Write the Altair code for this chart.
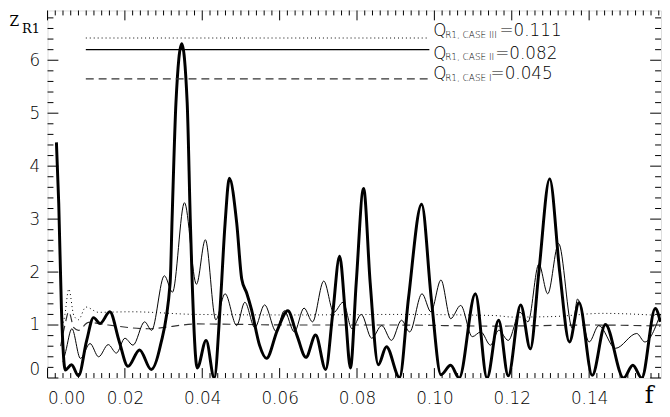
import altair as alt
import pandas as pd
import numpy as np

# ---------------- data ----------------
thick_f = [0.0023, 0.0029, 0.0036, 0.0046, 0.0062, 0.0080, 0.0101, 0.0119, 0.0136, 0.0161,
           0.0185, 0.0208, 0.0238, 0.0268, 0.0292, 0.0317, 0.0322, 0.0332, 0.0347, 0.0361,
           0.0369, 0.0374, 0.0387, 0.0410, 0.0431, 0.0446, 0.0459, 0.0470, 0.0489, 0.0502,
           0.0515, 0.0527, 0.0548, 0.0566, 0.0594, 0.0621, 0.0645, 0.0668, 0.0693, 0.0719,
           0.0737, 0.0755, 0.0770, 0.0783, 0.0798, 0.0817, 0.0834, 0.0855, 0.0876, 0.0910,
           0.0933, 0.0967, 0.0992, 0.1017, 0.1042, 0.1064, 0.1106, 0.1136, 0.1166, 0.1191,
           0.1223, 0.1248, 0.1270, 0.1298, 0.1324, 0.1349, 0.1374, 0.1408, 0.1442, 0.1489,
           0.1513, 0.1536, 0.1571, 0.1584]
thick_z = [4.45, 3.30, 1.30, 0.15, 0.25, 0.04, 0.70, 1.14, 1.03, 1.25,
           0.70, 0.22, 0.53, 0.16, 0.62, 1.80, 3.00, 5.20, 6.31, 5.20,
           3.00, 1.80, 0.19, 0.71, 0.00, 1.31, 2.92, 3.77, 2.93, 1.87,
           1.60, 1.30, 0.62, 0.37, 0.90, 1.27, 0.80, 0.39, 0.81, 0.16,
           1.20, 2.30, 1.20, 0.19, 1.80, 3.58, 1.80, 0.25, 0.59, 0.01,
           1.50, 3.28, 1.50, 0.06, 0.24, 0.00, 1.59, 0.00, 1.09, 0.04,
           1.38, 0.55, 2.00, 3.76, 2.00, 0.68, 1.42, 0.05, 1.01, 0.00,
           0.24, 0.00, 1.31, 1.06]

thin_f = [0.0040, 0.0047, 0.0063, 0.0085, 0.0110, 0.0132, 0.0157, 0.0178, 0.0200, 0.0221,
          0.0251, 0.0269, 0.0302, 0.0323, 0.0354, 0.0385, 0.0408, 0.0435, 0.0459, 0.0489,
          0.0510, 0.0536, 0.0561, 0.0591, 0.0612, 0.0638, 0.0663, 0.0685, 0.0714, 0.0740,
          0.0764, 0.0787, 0.0811, 0.0838, 0.0864, 0.0889, 0.0915, 0.0936, 0.0968, 0.0991,
          0.1017, 0.1042, 0.1068, 0.1098, 0.1120, 0.1145, 0.1166, 0.1191, 0.1221, 0.1242,
          0.1270, 0.1293, 0.1321, 0.1357, 0.1370, 0.1400, 0.1425, 0.1468, 0.1523, 0.1544,
          0.1584]
thin_z = [0.30, 0.50, 0.93, 0.37, 0.65, 0.40, 0.63, 0.47, 0.75, 0.62,
          1.06, 0.90, 1.93, 1.62, 3.31, 1.77, 2.61, 1.10, 1.59, 0.99,
          1.43, 0.95, 1.38, 0.88, 1.27, 0.87, 1.32, 1.06, 1.83, 1.24,
          1.43, 0.93, 1.20, 0.75, 0.99, 0.71, 1.09, 0.87, 1.59, 1.25,
          1.85, 1.12, 1.37, 0.78, 0.87, 0.62, 0.90, 0.71, 1.24, 1.06,
          2.15, 1.59, 2.54, 0.93, 1.49, 0.68, 0.99, 0.56, 0.84, 0.68,
          1.20]

dot_f = [0.0037, 0.0045, 0.0055, 0.0068, 0.0080, 0.0099, 0.0132, 0.0216, 0.0387, 0.0642,
         0.0898, 0.1153, 0.1204, 0.1306, 0.1434, 0.1584]
dot_z = [0.90, 1.20, 1.68, 1.18, 1.10, 1.34, 1.24, 1.25, 1.20, 1.19,
         1.20, 1.18, 1.15, 1.16, 1.22, 1.18]

dash_f = [0.0034, 0.0045, 0.0055, 0.0068, 0.0080, 0.0106, 0.0157, 0.0259, 0.0387, 0.0642,
          0.0898, 0.1153, 0.1408, 0.1584]
dash_z = [0.60, 1.00, 1.25, 0.95, 0.90, 1.05, 1.00, 0.93, 1.02, 1.00,
          1.00, 0.98, 1.00, 0.98]

x_ticks = [0.00, 0.02, 0.04, 0.06, 0.08, 0.10, 0.12, 0.14]
y_ticks = [0, 1, 2, 3, 4, 5, 6]

leg_style = ["dotted", "solid", "dashed"]
leg_case = ["R1, CASE III", "R1, CASE II", "R1, CASE I"]
leg_value = ["=0.111", "=0.082", "=0.045"]
leg_level = [6.42, 6.20, 5.65]
leg_f0, leg_f1 = 0.0099, 0.0987

# ---------------- geometry ----------------
W, H = 621, 372
XMAX = 0.15858
YMAX = 6.94
FONT = "DejaVu Sans"
FW = 200

xs = alt.Scale(domain=[0, XMAX], nice=False, zero=False)
ys = alt.Scale(domain=[0, YMAX], nice=False, zero=False)

def line_layer(f, z, **mk):
    df = pd.DataFrame({"f": f, "z": z})
    return alt.Chart(df).mark_line(interpolate="monotone", clip=True, **mk).encode(
        x=alt.X("f:Q", scale=xs), y=alt.Y("z:Q", scale=ys))

base_axes = alt.Chart(pd.DataFrame({"f": [0.0], "z": [0.0]})).mark_point(opacity=0).encode(
    x=alt.X("f:Q", scale=xs, axis=alt.Axis(values=x_ticks, format=".2f", title=None, ticks=False,
                                           tickSize=0, domain=False, grid=False, labelFont=FONT,
                                           labelFontSize=17, labelFontWeight=FW, labelPadding=13,
                                           labelColor="black")),
    y=alt.Y("z:Q", scale=ys, axis=alt.Axis(values=y_ticks, format="d", title=None, ticks=False,
                                           tickSize=0, domain=False, grid=False, labelFont=FONT,
                                           labelFontSize=17, labelFontWeight=FW, labelPadding=8,
                                           labelFlush=True, labelColor="black")),
)

dashed = line_layer(dash_f, dash_z, color="#333333", strokeWidth=1.2, strokeDash=[8, 5])
dotted = line_layer(dot_f, dot_z, color="black", strokeWidth=1, strokeDash=[1, 3])
thin = line_layer(thin_f, thin_z, color="black", strokeWidth=1)
thick = line_layer(thick_f, thick_z, color="black", strokeWidth=3)

# legend lines
leg_df = pd.DataFrame({"f0": [leg_f0] * 3, "f1": [leg_f1] * 3, "z": leg_level, "s": leg_style})
dash_map = {"dotted": [1, 3], "solid": [1, 0], "dashed": [8, 5]}
leg_lines = []
for i, s in enumerate(leg_style):
    leg_lines.append(
        alt.Chart(leg_df.iloc[[i]]).mark_rule(strokeDash=dash_map[s],
                                             color="#333333" if s == "dashed" else "black",
                                             strokeWidth=1.2 if s != "dotted" else 1).encode(
            x=alt.X("f0:Q", scale=xs), x2="f1:Q", y=alt.Y("z:Q", scale=ys)))

# legend texts (pixel positions inside plot)
q_x = 390.5
q_base = [26, 48.7, 69.3]
sub_base = [27.7, 50.3, 71.3]
val_x = [457.5, 453.2, 448.5]
q_df = pd.DataFrame({"x": [q_x] * 3, "y": q_base, "t": ["Q"] * 3})
sub_df = pd.DataFrame({"x": [q_x + 12] * 3, "y": sub_base, "t": leg_case})
val_df = pd.DataFrame({"x": val_x, "y": q_base, "t": leg_value})

def text_layer(df, size, font=FONT, align="left", weight=FW):
    return alt.Chart(df).mark_text(align=align, baseline="alphabetic", font=font, fontSize=size,
                                   fontWeight=weight, color="black").encode(
        x=alt.X("x:Q", scale=None), y=alt.Y("y:Q", scale=None), text="t:N")

q_txt = text_layer(q_df, 17)
sub_txt = text_layer(sub_df, 9)
val_txt = text_layer(val_df, 17)

ytitle1 = text_layer(pd.DataFrame({"x": [-38.5], "y": [16], "t": ["Z"]}), 14, font="DejaVu Serif", weight="normal")
ytitle2 = text_layer(pd.DataFrame({"x": [-25.8], "y": [23], "t": ["R1"]}), 13, font="DejaVu Serif", weight="normal")
xtitle = text_layer(pd.DataFrame({"x": [609], "y": [397], "t": ["f"]}), 24, font="DejaVu Serif",
                    align="center", weight="normal")

# inward ticks
xminor = [round(v, 4) for v in np.arange(0, XMAX, 0.002)]
yminor = [round(v, 2) for v in np.arange(0, YMAX, 0.2)]
xt_df = pd.DataFrame({"f": xminor, "major": [abs(v / 0.02 - round(v / 0.02)) < 1e-6 for v in xminor]})
yt_df = pd.DataFrame({"z": yminor, "major": [abs(v - round(v)) < 1e-6 for v in yminor]})

def xticks(df, length, top):
    ch = alt.Chart(df).mark_rule(color="black", strokeWidth=1)
    if top:
        return ch.encode(x=alt.X("f:Q", scale=xs), y=alt.value(0), y2=alt.value(length))
    return ch.encode(x=alt.X("f:Q", scale=xs), y=alt.value(H), y2=alt.value(H - length))

def yticks(df, length, right):
    ch = alt.Chart(df).mark_rule(color="black", strokeWidth=1)
    if right:
        return ch.encode(y=alt.Y("z:Q", scale=ys), x=alt.value(W), x2=alt.value(W - length))
    return ch.encode(y=alt.Y("z:Q", scale=ys), x=alt.value(0), x2=alt.value(length))

xmaj = xt_df[xt_df.major]
xmin = xt_df[~xt_df.major]
ymaj = yt_df[yt_df.major]
ymin = yt_df[~yt_df.major]
tick_layers = [xticks(xmaj, 10, False), xticks(xmin, 5, False), xticks(xmaj, 10, True), xticks(xmin, 5, True),
               yticks(ymaj, 11, False), yticks(ymin, 6, False), yticks(ymaj, 11, True), yticks(ymin, 6, True)]

chart = alt.layer(
    base_axes, dashed, dotted, thin, thick, *leg_lines, q_txt, sub_txt, val_txt,
    ytitle1, ytitle2, xtitle, *tick_layers
).properties(
    width=W, height=H,
    autosize=alt.AutoSizeParams(type="none"),
    padding={"left": 40, "top": 0, "right": 1, "bottom": 37},
).configure_view(stroke="black", strokeWidth=1).configure(background="white")

chart.save("out.html", embed_options={"renderer": "svg", "actions": False})
